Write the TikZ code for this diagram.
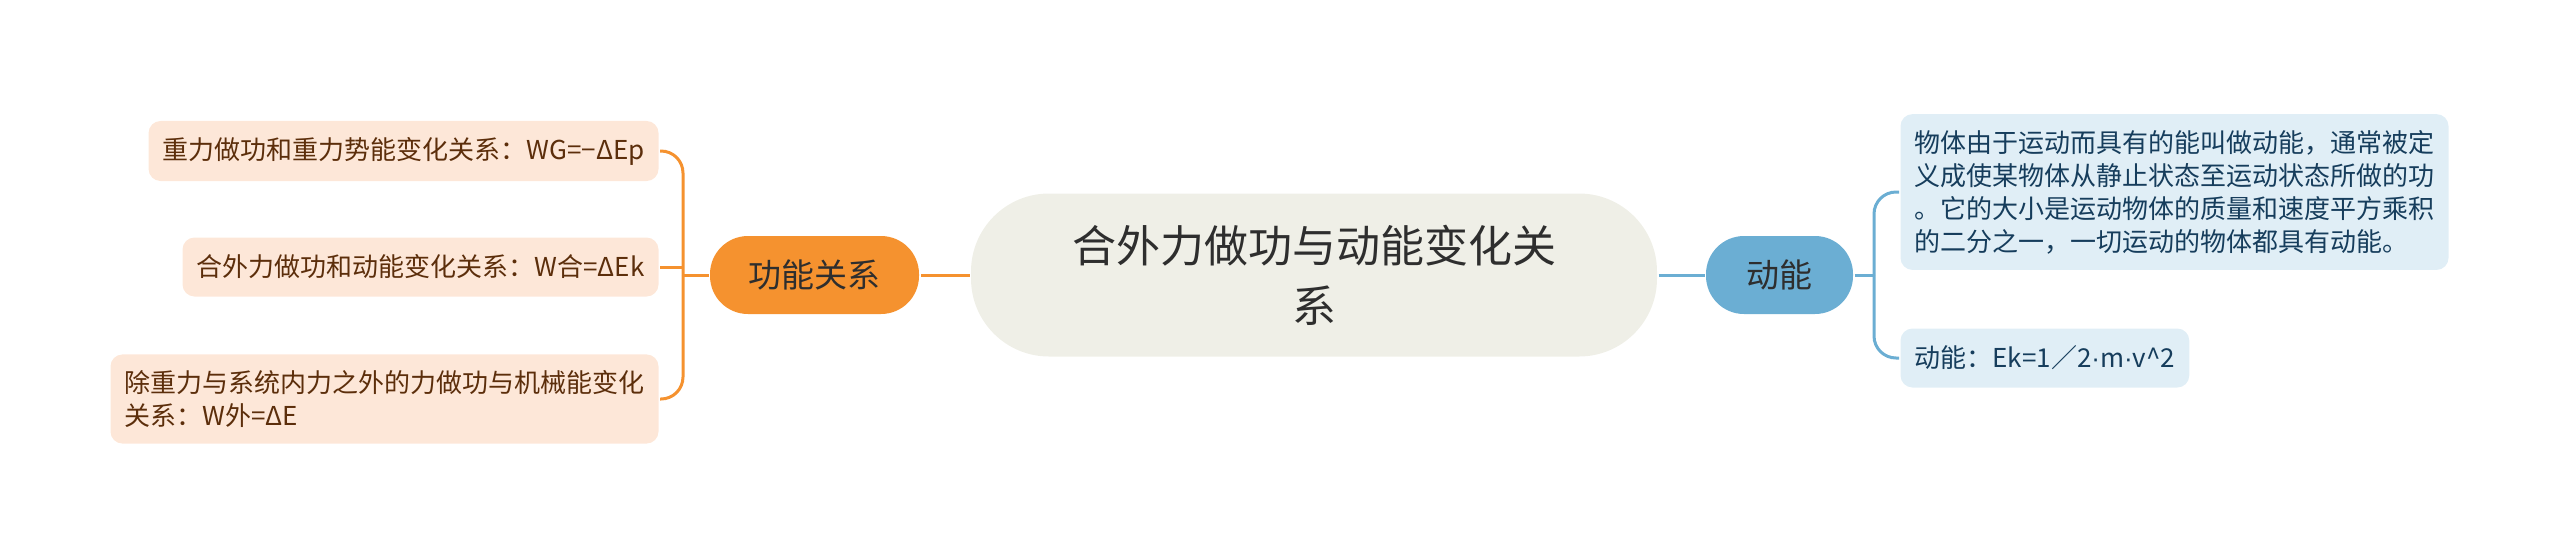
\documentclass[tikz,border=0pt]{standalone}
\usepackage{fontspec}
\setmainfont{Noto Sans CJK SC}
\newfontfamily\latinfont{Liberation Sans}
\newcommand{\mdot}{{\latinfont ·}}
\definecolor{rootbg}{HTML}{EFEFE7}
\definecolor{orangebg}{HTML}{F5922F}
\definecolor{bluebg}{HTML}{6BAED3}
\definecolor{peach}{HTML}{FDE7D8}
\definecolor{paleblue}{HTML}{E0EEF6}
\definecolor{brownt}{HTML}{5C2E0B}
\definecolor{bluet}{HTML}{163D5C}
\definecolor{darkt}{HTML}{2E2E2E}
\begin{document}
\begin{tikzpicture}
    [x=1pt,y=-1pt,line width=3pt,
     every node/.style={rounded corners=12pt,align=left,inner xsep=14pt,inner ysep=16pt,
       minimum height=59pt,font=\fontsize{26}{33}\selectfont},
     lf/.style={fill=peach,text=brownt,anchor=east},
     rt/.style={fill=paleblue,text=bluet,anchor=west},
     mid/.style={rounded corners=38pt,minimum height=78pt,text=darkt,
       align=center,font=\fontsize{33}{40}\selectfont}]
    \useasboundingbox (0,0) rectangle (2560,558);

    \node[fill=rootbg,rounded corners=78pt,minimum width=686pt,minimum height=163pt,
      align=center,text=darkt,font=\fontsize{44}{60}\selectfont] (nRoot) at (1314,275)
      {合外力做功与动能变化关\\系};
    \node[mid,fill=orangebg,minimum width=209pt] (nL) at (814.5,275) {功能关系};
    \node[mid,fill=bluebg,minimum width=147pt] (nR) at (1779.5,275) {动能};

    \node[lf] (nL1) at (660,151) {重力做功和重力势能变化关系：WG=−ΔEp};
    \node[lf] (nL2) at (660,267) {合外力做功和动能变化关系：W合=ΔEk};
    \node[lf] (nL3) at (660,399) {除重力与系统内力之外的力做功与机械能变化\\关系：W外=ΔE};

    \node[rt] (nR1) at (1899,192) {物体由于运动而具有的能叫做动能，通常被定\\义成使某物体从静止状态至运动状态所做的功\\。它的大小是运动物体的质量和速度平方乘积\\的二分之一，一切运动的物体都具有动能。};
    \node[rt] (nR2) at (1899,358) {动能：Ek=1／2\mdot m\mdot v\textasciicircum 2};

    \coordinate (fL) at (683,275);
    \coordinate (fR) at (1874,275);

    \draw[orangebg] (nRoot.west) -- (nL.east);
    \draw[orangebg] (nL.west) -- (fL);
    \draw[orangebg] (nL2.east) -- (nL2.east -| fL);
    \foreach \to in {nL1,nL3}
      \draw[orangebg,rounded corners=22pt] (fL) |- (\to.east);

    \draw[bluebg] (nRoot.east) -- (nR.west);
    \draw[bluebg] (nR.east) -- (fR);
    \foreach \to in {nR1,nR2}
      \draw[bluebg,rounded corners=22pt] (fR) |- (\to.west);
  \end{tikzpicture}
\end{document}
